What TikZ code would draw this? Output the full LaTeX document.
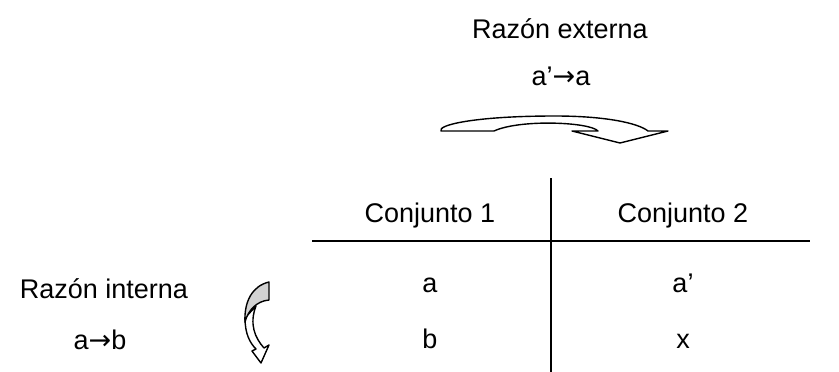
\documentclass[tikz,border=0pt]{standalone}
\usepackage{fontspec}
\setmainfont{Liberation Sans}
\newfontfamily\arrowfont{DejaVu Sans}
\usetikzlibrary{positioning}

\begin{document}
\begin{tikzpicture}[x=1pt, y=-1pt,
    txt/.style={font=\fontsize{27}{32}\selectfont, inner sep=0pt, anchor=base},
    rule/.style={line width=1.6pt},
    band/.style={line width=1.4pt, line join=round, fill=white},
    backside/.style={line width=1.4pt, line join=round, fill=gray!35}
]
\useasboundingbox (0,0) rectangle (839,372);

% outer ratio
\node (ext)    [txt] at (560,38) {Razón externa};
\node (extrel) [txt] at (561,85) {a’{\arrowfont →}a};
\draw [band] (441,131) .. controls (437,125) and (475,116) .. (555,116)
             .. controls (605,116) and (638,123) .. (648,131)
             -- (668,131) -- (620,143) -- (572,131) -- (598,131)
             .. controls (590,122) and (520,119) .. (494,131) -- cycle;

% table
\coordinate (vtop) at (551,178);
\coordinate (vbot) at (551,372);
\coordinate (hl)   at (312,241);
\coordinate (hr)   at (810,241);
\draw [rule] (vtop) -- (vbot);
\draw [rule] (hl) -- (hr);
\node (c1) [txt] at (430,222) {Conjunto 1};
\node (c2) [txt] at (683,222) {Conjunto 2};
\node (a)  [txt] at (430,292) {a};
\node (a2) [txt] at (683,292) {a’};
\node (b)  [txt] at (430,348) {b};
\node (x)  [txt] at (683,348) {x};

% inner ratio
\node (int)    [txt] at (104,298) {Razón interna};
\node (intrel) [txt] at (100,349) {a{\arrowfont →}b};
\draw [band] (245,318) .. controls (245,334) and (250,343) .. (256,349)
             -- (252,351) -- (261,363) -- (269,345) -- (264,348)
             .. controls (255,338) and (249,324) .. (256,306) -- cycle;
\draw [backside] (269,282) .. controls (252,286) and (244,302) .. (245,322)
                 .. controls (248,310) and (257,301) .. (269,300) -- cycle;
\end{tikzpicture}
\end{document}
